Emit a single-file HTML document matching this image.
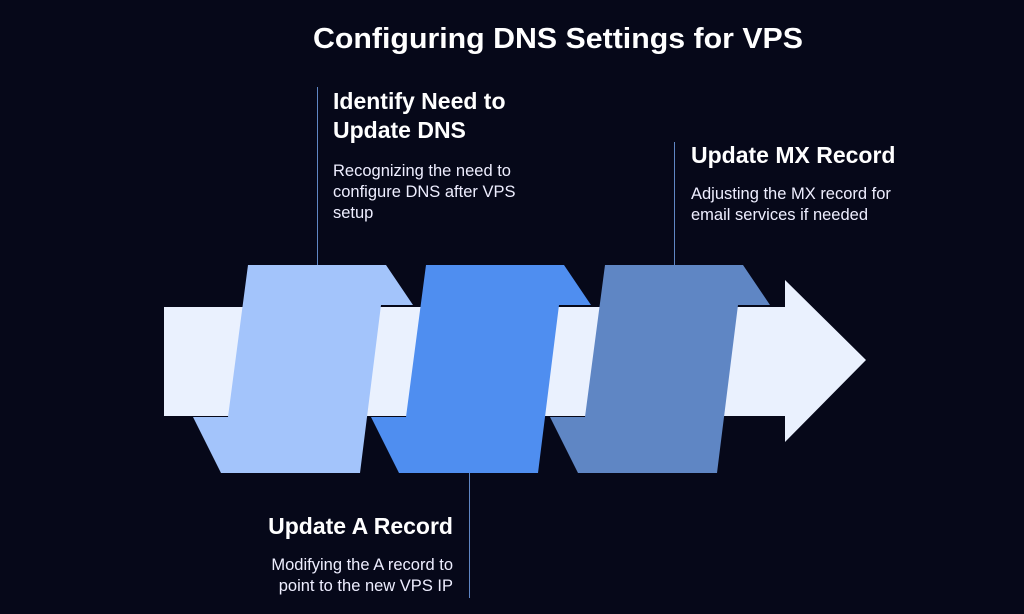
<!DOCTYPE html>
<html><head><meta charset="utf-8"><style>
html,body{margin:0;padding:0;background:#060819;}
svg{display:block}
text{font-family:"Liberation Sans",Arial,sans-serif;fill:#fff}
.h{font-weight:bold;font-size:23px}
.d{font-size:16.5px;fill:#eef}
</style></head><body>
<svg width="1024" height="614" viewBox="0 0 1024 614" xmlns="http://www.w3.org/2000/svg">
<rect width="1024" height="614" fill="#060819"/>
<text x="313" y="48" textLength="490" lengthAdjust="spacingAndGlyphs" style="font-weight:bold;font-size:29px">Configuring DNS Settings for VPS</text>
<line x1="317.5" y1="87" x2="317.5" y2="265" stroke="#5f86c4" stroke-width="1"/>
<line x1="674.5" y1="142" x2="674.5" y2="265" stroke="#5f86c4" stroke-width="1"/>
<line x1="469.5" y1="473" x2="469.5" y2="598" stroke="#5f86c4" stroke-width="1"/>
<polygon points="164,307 785,307 785,280 866,360 785,442 785,416 164,416" fill="#eaf1fe"/>
<polygon points="248,265 386,265 413,305 381,305 360,473 221,473 193,417 228,417" fill="#a3c4fb"/>
<polygon transform="translate(178,0)" points="248,265 386,265 413,305 381,305 360,473 221,473 193,417 228,417" fill="#4f8ef0"/>
<polygon transform="translate(357,0)" points="248,265 386,265 413,305 381,305 360,473 221,473 193,417 228,417" fill="#5f86c4"/>
<text class="h" x="333" y="109">Identify Need to</text>
<text class="h" x="333" y="138">Update DNS</text>
<text class="d" x="333" y="176">Recognizing the need to</text>
<text class="d" x="333" y="197">configure DNS after VPS</text>
<text class="d" x="333" y="218">setup</text>
<text class="h" x="691" y="163">Update MX Record</text>
<text class="d" x="691" y="199">Adjusting the MX record for</text>
<text class="d" x="691" y="220">email services if needed</text>
<text class="h" x="453" y="534" text-anchor="end">Update A Record</text>
<text class="d" x="453" y="570" text-anchor="end">Modifying the A record to</text>
<text class="d" x="453" y="591" text-anchor="end">point to the new VPS IP</text>
</svg>
</body></html>
